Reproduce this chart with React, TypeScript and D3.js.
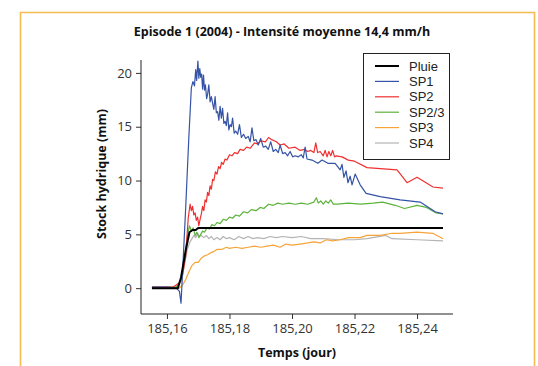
import React, { useRef, useEffect } from "react";
import { select, scaleLinear, line, axisLeft, axisBottom, format } from "d3";

type Pt = [number, number];

// Données (temps en jour, stock en mm)
const PLUIE: Pt[] = [
  [185.1552, 0.0], [185.1635, 0.0], [185.1645, 1.0], [185.166, 3.5], [185.1672, 5.2],
  [185.1682, 5.4], [185.1692, 5.4], [185.17, 5.6], [185.172, 5.6], [185.2483, 5.6],
];

const SP1: Pt[] = [
  [185.1552, 0.1], [185.16, 0.1], [185.163, 0.0], [185.164, -0.3], [185.1645, -1.4],
  [185.165, 1.5], [185.166, 7.5], [185.167, 14], [185.1678, 18.6], [185.1683, 19.2],
  [185.1688, 18.8], [185.1692, 20.3], [185.1695, 19.3], [185.1699, 21.1], [185.1702, 19.5],
  [185.1705, 20.4], [185.1708, 19.6], [185.1711, 19.9], [185.1714, 18.5], [185.1717, 19.8],
  [185.172, 18.4], [185.1723, 18.9], [185.1727, 17.6], [185.173, 18.0], [185.1734, 18.9],
  [185.1738, 17.3], [185.1742, 17.8], [185.1746, 17.2], [185.175, 16.6], [185.1754, 17.8],
  [185.1758, 16.3], [185.1762, 16.4], [185.1766, 15.6], [185.177, 16.9], [185.1774, 15.8],
  [185.1778, 16.7], [185.1782, 15.3], [185.1786, 15.5], [185.179, 15.1], [185.1794, 16.3],
  [185.1798, 14.7], [185.1802, 15.2], [185.1806, 15.0], [185.181, 15.8], [185.1815, 14.4],
  [185.182, 14.6], [185.1826, 14.3], [185.1832, 15.2], [185.1838, 14.0], [185.1845, 14.3],
  [185.1852, 13.9], [185.186, 14.1], [185.1866, 13.6], [185.1872, 14.9], [185.1878, 13.7],
  [185.1885, 13.8], [185.1892, 13.3], [185.19, 13.9], [185.1908, 13.1], [185.1916, 13.2],
  [185.1924, 12.9], [185.1932, 13.6], [185.194, 12.7], [185.1948, 12.9], [185.1956, 12.6],
  [185.1962, 13.3], [185.197, 12.5], [185.1978, 12.6], [185.1986, 12.3], [185.1994, 12.7],
  [185.2002, 12.2], [185.201, 12.3], [185.202, 12.2], [185.203, 12.4], [185.2036, 12.1],
  [185.2042, 13.1], [185.2048, 12.0], [185.2064, 11.9], [185.2083, 11.6], [185.2096, 11.9],
  [185.2115, 11.6], [185.2138, 11.6], [185.2154, 11.0], [185.216, 11.5], [185.2166, 10.3],
  [185.2173, 10.9], [185.2179, 9.8], [185.2186, 10.4], [185.2192, 9.6], [185.2202, 10.6],
  [185.2218, 9.6], [185.2237, 8.8], [185.2282, 8.5], [185.2346, 8.2], [185.241, 8.0],
  [185.2458, 7.1], [185.2483, 6.9],
];

const SP2: Pt[] = [
  [185.1552, 0.1], [185.162, 0.1], [185.164, 0.5], [185.165, 1.2], [185.166, 3.0],
  [185.1668, 6.5], [185.1674, 7.8], [185.1678, 7.2], [185.1682, 7.6], [185.1686, 6.8],
  [185.169, 7.0], [185.1694, 6.3], [185.1698, 6.6], [185.1702, 5.8], [185.1706, 6.4],
  [185.171, 6.9], [185.1714, 7.6], [185.1718, 7.2], [185.1722, 8.2], [185.1726, 8.0],
  [185.173, 8.9], [185.1734, 8.6], [185.1738, 9.5], [185.1742, 9.2], [185.1746, 10.1],
  [185.175, 10.0], [185.1755, 10.8], [185.176, 10.6], [185.1765, 11.3], [185.177, 11.1],
  [185.1775, 11.7], [185.178, 11.5], [185.1786, 12.0], [185.1792, 11.9], [185.18, 12.4],
  [185.1808, 12.3], [185.1816, 12.6], [185.1826, 12.5], [185.1834, 12.9], [185.1845, 12.8],
  [185.1855, 13.1], [185.1866, 13.0], [185.188, 13.5], [185.189, 13.4], [185.19, 13.7],
  [185.1915, 13.6], [185.1925, 14.0], [185.1935, 13.8], [185.195, 13.6], [185.1962, 13.3],
  [185.1975, 13.4], [185.199, 13.0], [185.201, 13.1], [185.2026, 12.8], [185.204, 12.9],
  [185.205, 12.7], [185.206, 12.8], [185.207, 12.6], [185.2076, 13.5], [185.2082, 12.6],
  [185.209, 12.7], [185.21, 12.3], [185.2106, 12.8], [185.2112, 12.2], [185.2118, 12.7],
  [185.2124, 12.3], [185.213, 12.8], [185.2136, 12.2], [185.2142, 12.3], [185.216, 12.2],
  [185.218, 11.9], [185.22, 11.8], [185.224, 11.2], [185.2336, 11.0], [185.2368, 9.8],
  [185.24, 10.3], [185.2451, 9.4], [185.2483, 9.3],
];

const SP23: Pt[] = [
  [185.1552, 0.1], [185.163, 0.1], [185.1645, 0.8], [185.1655, 2.5], [185.1665, 4.8],
  [185.1672, 5.8], [185.1678, 5.3], [185.1684, 5.6], [185.169, 4.9], [185.1696, 5.2],
  [185.1702, 4.7], [185.1708, 5.0], [185.1714, 5.3], [185.172, 5.2], [185.1728, 5.6],
  [185.1736, 5.5], [185.1744, 5.9], [185.1752, 5.8], [185.176, 6.1], [185.177, 6.0],
  [185.178, 6.4], [185.179, 6.3], [185.18, 6.6], [185.181, 6.5], [185.182, 6.8],
  [185.1832, 6.7], [185.1845, 7.1], [185.1858, 7.0], [185.187, 7.3], [185.1885, 7.2],
  [185.1898, 7.5], [185.191, 7.4], [185.1925, 7.8], [185.194, 7.7], [185.1955, 7.9],
  [185.197, 7.8], [185.199, 7.9], [185.201, 7.8], [185.203, 7.9], [185.205, 7.8],
  [185.207, 8.0], [185.2078, 8.4], [185.2084, 7.9], [185.2092, 8.1], [185.21, 7.8],
  [185.2108, 8.1], [185.2116, 7.9], [185.2124, 8.2], [185.2132, 7.8], [185.2145, 7.8],
  [185.218, 7.9], [185.222, 7.8], [185.226, 7.9], [185.229, 8.0], [185.233, 7.7],
  [185.236, 7.4], [185.24, 7.7], [185.243, 7.5], [185.246, 7.0], [185.2483, 6.9],
];

const SP3: Pt[] = [
  [185.1552, 0.0], [185.164, 0.0], [185.165, 0.3], [185.166, 0.8], [185.167, 1.5],
  [185.168, 2.1], [185.169, 2.4], [185.17, 2.4], [185.171, 2.8], [185.172, 3.0],
  [185.173, 3.1], [185.174, 3.3], [185.175, 3.4], [185.176, 3.6], [185.1775, 3.6],
  [185.179, 3.8], [185.18, 3.7], [185.182, 3.8], [185.184, 3.7], [185.186, 3.8],
  [185.188, 3.9], [185.19, 3.8], [185.192, 3.9], [185.194, 4.0], [185.1962, 3.8],
  [185.198, 4.1], [185.2, 4.0], [185.2026, 4.1], [185.205, 4.2], [185.207, 4.3],
  [185.209, 4.2], [185.211, 4.5], [185.213, 4.4], [185.2154, 4.5], [185.218, 4.7],
  [185.2218, 4.7], [185.224, 4.9], [185.2282, 4.9], [185.232, 5.1], [185.2346, 5.1],
  [185.24, 5.2], [185.245, 5.1], [185.2483, 4.6],
];

const SP4: Pt[] = [
  [185.1552, 0.1], [185.163, 0.1], [185.1645, 0.6], [185.1655, 2.0], [185.1665, 3.6],
  [185.1674, 4.3], [185.168, 4.6], [185.1686, 4.9], [185.1692, 4.7], [185.1698, 5.1],
  [185.1704, 4.8], [185.171, 4.9], [185.1718, 4.7], [185.1726, 4.9], [185.1734, 4.6],
  [185.1742, 4.8], [185.175, 4.5], [185.176, 4.7], [185.177, 4.5], [185.178, 4.8],
  [185.179, 4.6], [185.18, 4.7], [185.1815, 4.5], [185.183, 4.8], [185.1845, 4.6],
  [185.186, 4.8], [185.1875, 4.6], [185.189, 4.7], [185.191, 4.6], [185.193, 4.8],
  [185.195, 4.7], [185.197, 4.8], [185.2, 4.7], [185.203, 4.8], [185.206, 4.6],
  [185.21, 4.6], [185.215, 4.5], [185.22, 4.5], [185.224, 4.6], [185.23, 4.9],
  [185.232, 4.6], [185.24, 4.5], [185.2483, 4.4],
];

const X_TICKS = [185.16, 185.18, 185.2, 185.22, 185.24];
const Y_TICKS = [0, 5, 10, 15, 20];

const SERIES = [
  { name: "SP4", data: SP4, color: "#b4b4b4" },
  { name: "SP3", data: SP3, color: "#f6a43a" },
  { name: "SP2/3", data: SP23, color: "#5cb33a" },
  { name: "SP2", data: SP2, color: "#ee3030" },
  { name: "SP1", data: SP1, color: "#3553a6" },
  { name: "Pluie", data: PLUIE, color: "#000000" },
];
const LEGEND = ["Pluie", "SP1", "SP2", "SP2/3", "SP3", "SP4"];

const FONT = "'Open Sans', sans-serif";
const LEGEND_FONT = "'Liberation Sans', Arial, sans-serif";

export default function App() {
  const ref = useRef<SVGSVGElement>(null);
  const W = 538, H = 366;
  const plot = { left: 141, right: 453, top: 60, bottom: 314 };

  useEffect(() => {
    const svg = select(ref.current);
    svg.selectAll("*").remove();

    const x = scaleLinear().domain([185.1517, 185.2515]).range([plot.left, plot.right]);
    const y = scaleLinear().domain([-2.4, 21.2]).range([plot.bottom, plot.top]);

    // cadre orange
    svg.append("path")
      .attr("d", `M20.5,${H} V12.5 H534.5 V${H}`)
      .attr("fill", "none")
      .attr("stroke", "#f5bd4f")
      .attr("stroke-width", 1.6);

    svg.append("text")
      .attr("x", 282).attr("y", 36)
      .attr("text-anchor", "middle")
      .style("font-family", FONT).style("font-weight", "bold").style("font-size", "12.5px")
      .attr("fill", "#111")
      .text("Episode 1 (2004) - Intensité moyenne 14,4 mm/h");

    // axes
    const yAxis = svg.append("g").attr("transform", `translate(${plot.left},0)`)
      .call(axisLeft(y).tickValues(Y_TICKS).tickSize(5).tickPadding(4).tickFormat(format("d")));
    const xAxis = svg.append("g").attr("transform", `translate(0,${plot.bottom})`)
      .call(axisBottom(x).tickValues(X_TICKS).tickSize(5).tickPadding(5)
        .tickFormat((d) => (d as number).toFixed(2).replace(".", ",")));
    [yAxis, xAxis].forEach((g) => {
      g.select(".domain").remove();
      g.selectAll("line").attr("stroke", "#333");
      g.selectAll("text").style("font-family", FONT).style("font-size", "13px").attr("fill", "#333");
    });
    svg.append("line").attr("x1", plot.left).attr("x2", plot.left)
      .attr("y1", plot.top).attr("y2", plot.bottom).attr("stroke", "#222");
    svg.append("line").attr("x1", plot.left).attr("x2", plot.right)
      .attr("y1", plot.bottom).attr("y2", plot.bottom).attr("stroke", "#222");

    svg.append("text")
      .attr("transform", `translate(106,174) rotate(-90)`)
      .attr("text-anchor", "middle")
      .style("font-family", FONT).style("font-weight", "bold").style("font-size", "12.5px")
      .attr("fill", "#111")
      .text("Stock hydrique (mm)");

    svg.append("text")
      .attr("x", 297).attr("y", 357)
      .attr("text-anchor", "middle")
      .style("font-family", FONT).style("font-weight", "bold").style("font-size", "12.5px")
      .attr("fill", "#111")
      .text("Temps (jour)");

    // séries
    const gen = line<Pt>().x((d) => x(d[0])).y((d) => y(d[1]));
    SERIES.forEach((s) => {
      svg.append("path")
        .datum(s.data)
        .attr("d", gen)
        .attr("fill", "none")
        .attr("stroke", s.color)
        .attr("stroke-width", s.name === "Pluie" ? 2 : 1.2)
        .attr("stroke-linejoin", "round");
    });

    // légende
    const lg = svg.append("g");
    lg.append("rect").attr("x", 363.5).attr("y", 53.5).attr("width", 86).attr("height", 106)
      .attr("fill", "white").attr("stroke", "#222").attr("stroke-width", 1);
    LEGEND.forEach((name, i) => {
      const s = SERIES.find((d) => d.name === name)!;
      const cy = 66 + i * 15.4;
      lg.append("line").attr("x1", 375).attr("x2", 399).attr("y1", cy).attr("y2", cy)
        .attr("stroke", s.color).attr("stroke-width", name === "Pluie" ? 2 : 1.2);
      lg.append("text").attr("x", 409).attr("y", cy + 4.5)
        .style("font-family", LEGEND_FONT).style("font-size", "13px").attr("fill", "#222")
        .text(name);
    });
  }, []);

  return (
    <svg ref={ref} width={W} height={H} viewBox={`0 0 ${W} ${H}`}
      style={{ position: "absolute", left: 0, top: 0, background: "white" }} />
  );
}
